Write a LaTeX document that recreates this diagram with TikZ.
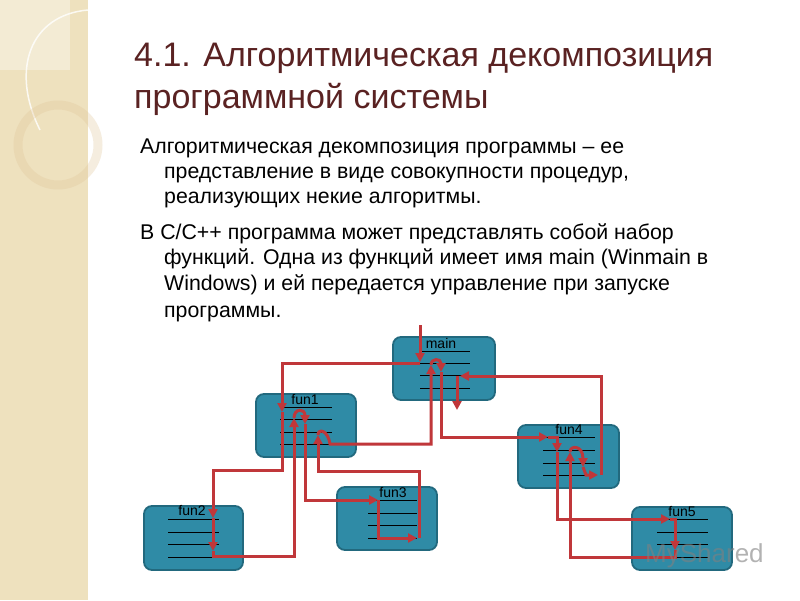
\documentclass[tikz,border=0pt]{standalone}
\usepackage{fontspec}
\setmainfont{Liberation Sans}
\usetikzlibrary{arrows.meta}
\definecolor{boxfill}{HTML}{2F8BA6}
\definecolor{boxdraw}{HTML}{22697E}
\definecolor{flow}{HTML}{C0373A}
\definecolor{ttl}{HTML}{5A2222}
\definecolor{beige}{HTML}{EEE1BE}
\tikzset{
  fbox/.style={draw=boxdraw,line width=1.8pt,fill=boxfill,rounded corners=8pt},
  fline/.style={black,line width=1pt},
  flabel/.style={font=\fontsize{14}{14}\selectfont,anchor=base,inner sep=0pt},
  fl/.style={flow,line width=3pt,-{Triangle[length=9pt,width=9pt]}},
  body/.style={anchor=base west,inner sep=0pt,font=\fontsize{21.3}{22}\selectfont},
  ttext/.style={anchor=base west,inner sep=0pt,text=ttl,font=\fontsize{34}{35}\selectfont}
}
\begin{document}
\begin{tikzpicture}[x=1pt,y=-1pt]
\useasboundingbox (0,0) rectangle (800,600);
\fill[white] (0,0) rectangle (800,600);
\fill[beige] (0,0) rectangle (88,600);
\fill[white,opacity=0.35] (0,0) rectangle (70,70);
\draw[white,line width=1.5pt,opacity=0.8] (88,10) .. controls (30,15) and (10,70) .. (40,130);
\draw[beige!70!brown,line width=9pt,opacity=0.3] (58,145) circle[radius=40];
% title
\node[ttext] (t1) at (134,66) {4.1. Алгоритмическая декомпозиция};
\node[ttext] (t2) at (134,108) {программной системы};
% body
\node[body] (b1) at (140,153) {Алгоритмическая декомпозиция программы – ее};
\node[body] (b2) at (164,178) {представление в виде совокупности процедур,};
\node[body] (b3) at (164,203) {реализующих некие алгоритмы.};
\node[body] (b4) at (140,239) {В C/C++ программа может представлять собой набор};
\node[body] (b5) at (164,264) {функций. Одна из функций имеет имя main (Winmain в};
\node[body] (b6) at (164,290) {Windows) и ей передается управление при запуске};
\node[body] (b7) at (164,317) {программы.};
% boxes
\draw[fbox] (393,337) rectangle (495,400);
\draw[fbox] (256,394) rectangle (356,457);
\draw[fbox] (144,506) rectangle (243,570);
\draw[fbox] (337,487) rectangle (437,550);
\draw[fbox] (518,425) rectangle (619,488);
\draw[fbox] (632,507) rectangle (732,570);
\foreach \x/\xx/\a/\b/\c/\d in {420/470/351/363/375/388, 280/332/407/419/432/444, 168/219/519/532/544/557, 368/417/500/513/525/538, 543/595/437/450/463/475, 657/708/519/532/544/557}{
  \foreach \yy in {\a,\b,\c,\d} \draw[fline] (\x,\yy) -- (\xx,\yy);
}
\node[flabel] (lm) at (441,348) {main};
\node[flabel] (l1) at (305,404) {fun1};
\node[flabel] (l2) at (192,515) {fun2};
\node[flabel] (l3) at (393,497) {fun3};
\node[flabel] (l4) at (569,434) {fun4};
\node[flabel] (l5) at (682,516) {fun5};
% flow
\draw[fl] (420,325) -- (420,362);
\draw[fl] (420,363) -- (282,363) -- (282,412);
\draw[fl] (282,412) -- (282,470) -- (213,470) -- (213,518);
\draw[fl] (213,518) -- (213,551);
\draw[fl] (213,551) -- (213,556) -- (294,556) -- (294,418);
\draw[fl] (294,418) .. controls (294,408) and (305,408) .. (305,424);
\draw[fl] (305,424) -- (305,500) -- (378,500);
\draw[fl] (378,500) -- (378,538) -- (417,538);
\draw[fl] (419,538) -- (419,471) -- (318,471) -- (318,435);
\draw[fl] (318,435) .. controls (318,428) and (328,430) .. (330,444) -- (431,444) -- (431,365);
\draw[fl] (431,365) .. controls (431,358) and (441,358) .. (441,372);
\draw[fl] (441,372) -- (441,437) -- (548,437);
\draw[fl] (548,437) -- (557,437) -- (557,452);
\draw[fl] (557,452) -- (557,519) -- (670,519);
\draw[fl] (670,519) -- (675,519) -- (675,550);
\draw[fl] (675,550) -- (675,557) -- (570,557) -- (570,452);
\draw[fl] (570,452) .. controls (570,445) and (583,445) .. (583,467);
\draw[fl] (583,467) -- (586,475) -- (598,475);
\draw[fl] (601,475) -- (601,376) -- (460,376);
\draw[fl] (457,376) -- (457,410);
\node[anchor=base west,inner sep=0pt,text=gray,opacity=0.6,font=\fontsize{26}{26}\selectfont] (wm) at (645,562) {MyShared};
\end{tikzpicture}
\end{document}
